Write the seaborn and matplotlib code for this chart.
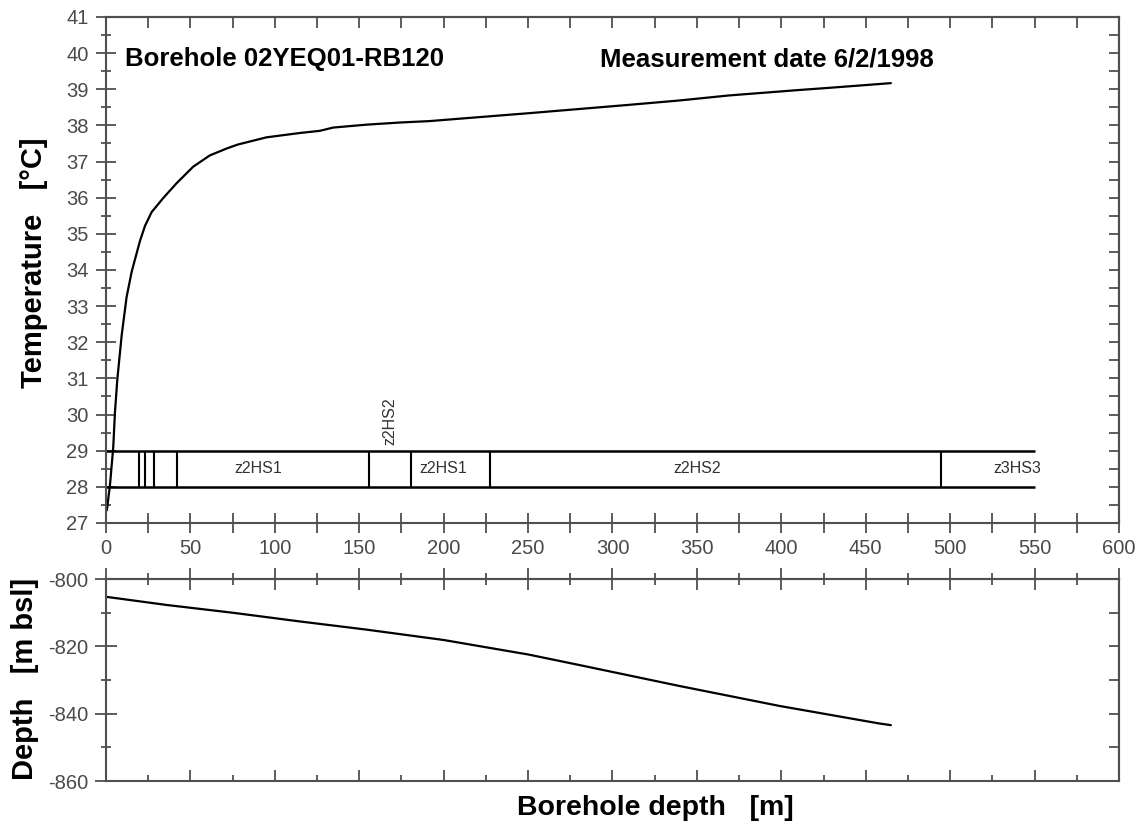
import numpy as np
import matplotlib
matplotlib.use("Agg")
import matplotlib.pyplot as plt
import seaborn as sns
from matplotlib.ticker import MultipleLocator

# Temperature log along the borehole (measured depth [m], temperature [°C])
temp_depth = [0.5, 2.4, 4.3, 5.3, 6.7, 9.3, 12.2, 15.2, 20.1, 23.1, 27.0, 33.9,
              41.8, 51.7, 61.5, 71.4, 78.0, 95.0, 114.8, 126.6, 134.5, 154.0,
              174.0, 191.7, 250.9, 310.0, 339.6, 369.2, 410.6, 428.4, 464.9]
temp_value = [27.35, 28.07, 29.1, 30.06, 30.97, 32.2, 33.25, 33.95, 34.8, 35.22,
              35.6, 35.99, 36.4, 36.86, 37.17, 37.36, 37.47, 37.67, 37.79, 37.85,
              37.94, 38.02, 38.08, 38.12, 38.34, 38.57, 38.69, 38.83, 38.98, 39.04,
              39.17]

# Vertical depth below sea level along the borehole
tvd_depth = [0.5, 36.0, 75.0, 115.0, 154.0, 200.0, 250.0, 280.0, 340.0, 399.0,
             458.0, 464.9]
tvd_value = [-805.3, -807.7, -810.0, -812.6, -815.0, -818.1, -822.4, -825.5,
             -831.8, -837.7, -842.9, -843.4]

# Stratigraphic column drawn as a band between 28 and 29 °C
band_bottom, band_top = 28, 29
band_end = 550
strata_bounds = [19.8, 23.2, 28.6, 42.1, 155.6, 180.6, 227.4, 494.6]
strata_labels = ["z2HS1", "z2HS1", "z2HS2", "z3HS3"]
strata_label_pos = [90, 200, 350, 540]
thin_unit_label = "z2HS2"
thin_unit_pos = 168

title_left = "Borehole 02YEQ01-RB120"
title_right = "Measurement date 6/2/1998"

sns.set_style("ticks")
plt.rcParams["font.family"] = ["Liberation Sans", "DejaVu Sans"]
plt.rcParams["axes.unicode_minus"] = False

GREY = "#4f4f4f"
LABEL_GREY = "#4a4a4a"

fig = plt.figure(figsize=(11.41, 8.25), dpi=100)
ax_t = fig.add_axes([0.0929, 0.3661, 0.8878, 0.6133])
ax_b = fig.add_axes([0.0929, 0.0533, 0.8878, 0.2448])

for ax in (ax_t, ax_b):
    for sp in ax.spines.values():
        sp.set_color(GREY)
        sp.set_linewidth(1.5)
        sp.set_visible(True)

# ---- temperature panel ----
sns.lineplot(x=temp_depth, y=temp_value, ax=ax_t, color="black",
             linewidth=1.6, estimator=None)
ax_t.set_xlim(0, 600)
ax_t.set_ylim(27, 41)
ax_t.xaxis.set_major_locator(MultipleLocator(50))
ax_t.xaxis.set_minor_locator(MultipleLocator(25))
ax_t.yaxis.set_major_locator(MultipleLocator(1))
ax_t.yaxis.set_minor_locator(MultipleLocator(0.5))
ax_t.tick_params(which="both", top=False, right=False, color=GREY, width=1.3,
                 direction="inout", labelsize=14.5, labelcolor=LABEL_GREY)
ax_t.tick_params(axis="x", which="both", length=14.5, pad=4)
ax_t.tick_params(axis="y", which="major", length=15, pad=5)
ax_t.tick_params(axis="y", which="minor", length=7.5)

sec_top = ax_t.secondary_xaxis("top")
sec_top.xaxis.set_major_locator(MultipleLocator(25))
sec_top.tick_params(direction="in", length=8, width=1.3, color=GREY,
                    labeltop=False)
sec_top.spines["top"].set_color(GREY)
sec_top.spines["top"].set_linewidth(1.5)

sec_right = ax_t.secondary_yaxis("right")
sec_right.yaxis.set_major_locator(MultipleLocator(0.5))
sec_right.tick_params(direction="in", length=7, width=1.3, color=GREY,
                      labelright=False)
sec_right.spines["right"].set_color(GREY)
sec_right.spines["right"].set_linewidth(1.5)

# stratigraphic band
ax_t.hlines([band_bottom, band_top], 0, band_end, colors="black", linewidth=1.8)
ax_t.vlines(strata_bounds, band_bottom, band_top, colors="black", linewidth=1.5)
for pos, lbl in zip(strata_label_pos, strata_labels):
    ax_t.text(pos, (band_bottom + band_top) / 2, lbl, ha="center", va="center",
              fontsize=11.5, color="#333333")
ax_t.text(thin_unit_pos, band_top + 0.15, thin_unit_label, rotation=90,
          ha="center", va="bottom", fontsize=11.5, color="#333333")

ax_t.text(0.0188, 0.903, title_left, transform=ax_t.transAxes, fontsize=18.5,
          fontweight="bold", va="baseline", ha="left", color="black")
ax_t.text(0.4877, 0.903, title_right, transform=ax_t.transAxes, fontsize=18.5,
          fontweight="bold", va="baseline", ha="left", color="black")

ax_t.set_xlabel("")
ax_t.set_ylabel("Temperature   [°C]", fontsize=21, fontweight="bold",
                color="black")
ax_t.yaxis.set_label_coords(-0.057, 0.515)

# ---- depth panel ----
sns.lineplot(x=tvd_depth, y=tvd_value, ax=ax_b, color="black",
             linewidth=1.6, estimator=None)
ax_b.set_xlim(0, 600)
ax_b.set_ylim(-860, -800)
ax_b.xaxis.set_major_locator(MultipleLocator(50))
ax_b.xaxis.set_minor_locator(MultipleLocator(25))
ax_b.yaxis.set_major_locator(MultipleLocator(20))
ax_b.yaxis.set_minor_locator(MultipleLocator(10))
ax_b.tick_params(which="both", top=False, right=False, color=GREY, width=1.3,
                 labelsize=14.5, labelcolor=LABEL_GREY)
ax_b.tick_params(axis="x", which="major", direction="in", length=8,
                 labelbottom=False)
ax_b.tick_params(axis="x", which="minor", direction="in", length=4)
ax_b.tick_params(axis="y", which="major", direction="inout", length=16, pad=5)
ax_b.tick_params(axis="y", which="minor", direction="inout", length=7.5)

sec_top_b = ax_b.secondary_xaxis("top")
sec_top_b.xaxis.set_major_locator(MultipleLocator(50))
sec_top_b.xaxis.set_minor_locator(MultipleLocator(25))
sec_top_b.tick_params(which="major", direction="inout", length=16, width=1.3,
                      color=GREY, labeltop=False)
sec_top_b.tick_params(which="minor", direction="inout", length=8, width=1.3,
                      color=GREY)
sec_top_b.spines["top"].set_color(GREY)
sec_top_b.spines["top"].set_linewidth(1.5)

sec_right_b = ax_b.secondary_yaxis("right")
sec_right_b.yaxis.set_major_locator(MultipleLocator(10))
sec_right_b.tick_params(direction="in", length=7, width=1.3, color=GREY,
                        labelright=False)
sec_right_b.spines["right"].set_color(GREY)
sec_right_b.spines["right"].set_linewidth(1.5)

ax_b.set_ylabel("Depth   [m bsl]", fontsize=21, fontweight="bold",
                color="black")
ax_b.yaxis.set_label_coords(-0.066, 0.505)
ax_b.set_xlabel("Borehole depth   [m]", fontsize=20.5, fontweight="bold",
                color="black")
ax_b.xaxis.set_label_coords(0.542, -0.07)

fig.savefig("out.png", dpi=100, facecolor="white")
